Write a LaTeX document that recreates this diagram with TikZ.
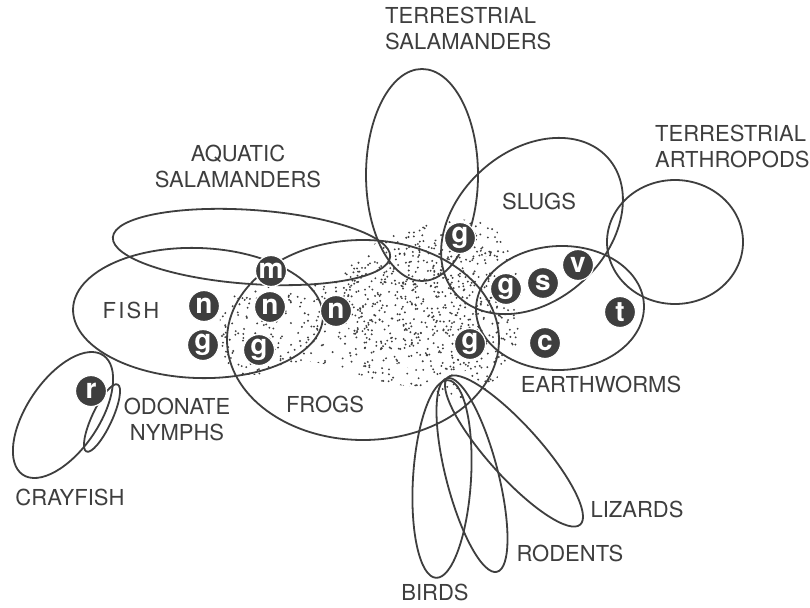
\documentclass[tikz,border=0pt]{standalone}
\usepackage{fontspec}
\setmainfont{TeX Gyre Heros}
\definecolor{ink}{RGB}{62,62,62}
\begin{document}
\begin{tikzpicture}[x=1pt,y=-1pt,
  outline/.style={draw=ink, line width=1.8pt},
  lbl/.style={text=ink, font=\fontsize{22}{26}\selectfont, inner sep=0pt},
  food/.style={circle, fill=ink, draw=white, line width=1.2pt, text=white,
    minimum size=31pt, inner sep=0pt, font=\fontsize{28}{28}\bfseries\selectfont}]
\useasboundingbox (0,0) rectangle (810,607);
\fill[white] (0,0) rectangle (810,607);

% stipple
\begin{scope}
\clip plot[smooth cycle, tension=0.7] coordinates {(226,300) (250,286) (290,288) (330,280) (360,255) (395,232) (440,222) (482,222) (506,245) (520,290) (518,340) (500,375) (470,398) (445,398) (420,388) (380,382) (340,368) (300,362) (265,374) (230,368) (220,330)};
\pgfmathsetseed{4242}
\foreach \i in {1,...,1000}{
  \pgfmathsetmacro{\px}{218+307*rnd}
  \pgfmathsetmacro{\py}{218+185*rnd}
  \fill[ink] (\px,\py) circle[radius=1.05pt];
}
\end{scope}
\begin{scope}
\clip plot[smooth cycle, tension=0.7] coordinates {(345,290) (380,255) (430,240) (480,250) (500,300) (490,350) (450,375) (400,365) (355,340)};
\foreach \i in {1,...,450}{
  \pgfmathsetmacro{\px}{340+170*rnd}
  \pgfmathsetmacro{\py}{235+145*rnd}
  \fill[ink] (\px,\py) circle[radius=1.05pt];
}
\end{scope}

% ellipses
\draw[outline, rotate around={-4:(251.5,247)}] (251.5,247) ellipse [x radius=139pt, y radius=37pt];
\draw[outline, rotate around={-2:(198,313)}] (198,313) ellipse [x radius=125pt, y radius=65pt];
\draw[outline] (363,340) ellipse [x radius=136pt, y radius=100pt];
\draw[outline] (422,175) ellipse [x radius=56pt, y radius=106pt];
\draw[outline, rotate around={42:(532,226)}] (532,226) ellipse [x radius=102pt, y radius=75pt];
\draw[outline, rotate around={2:(560,308)}] (560,308) ellipse [x radius=84pt, y radius=62pt];
\draw[outline] (675,242) ellipse [x radius=68pt, y radius=62pt];
\draw[outline, rotate around={56:(63,415)}] (63,415) ellipse [x radius=72pt, y radius=36pt];
\draw[outline, rotate around={65:(102,418)}] (102,418) ellipse [x radius=37pt, y radius=10pt];
\draw[outline, rotate around={-3.5:(442,479)}] (442,479) ellipse [x radius=29pt, y radius=99pt];
\draw[outline, rotate around={14.5:(472,475)}] (472,475) ellipse [x radius=26pt, y radius=100pt];
\draw[outline, rotate around={-48:(514,451)}] (514,451) ellipse [x radius=99pt, y radius=26pt];

% labels
\node[lbl, anchor=north west, align=left] (lTS) at (385,7) {TERRESTRIAL\\SALAMANDERS};
\node[lbl, align=center] (lAS) at (238,166) {AQUATIC\\SALAMANDERS};
\node[lbl, anchor=north west, align=left] (lTA) at (655,125) {TERRESTRIAL\\ARTHROPODS};
\node[lbl] (lSL) at (539,201) {SLUGS};
\node[lbl] (lFI) at (131,310) {\addfontfeature{LetterSpace=10}FISH};
\node[lbl] (lFR) at (325,404) {FROGS};
\node[lbl] (lEW) at (601,384) {EARTHWORMS};
\node[lbl, align=center] (lON) at (177,419) {ODONATE\\NYMPHS};
\node[lbl] (lCR) at (70,497) {CRAYFISH};
\node[lbl] (lLI) at (637,509) {LIZARDS};
\node[lbl] (lRO) at (570,553) {RODENTS};
\node[lbl] (lBI) at (435,592) {BIRDS};

% food-item circles
\node[food] (m1) at (271,271) {m};
\node[food] (n1) at (204,306) {n};
\node[food] (n2) at (270,307) {n};
\node[food] (n3) at (336,311) {n};
\node[food] (g1) at (203,345) {g};
\node[food] (g2) at (259,350) {g};
\node[food] (g3) at (460,238) {g};
\node[food] (g4) at (506,289) {g};
\node[food] (s1) at (543,283) {s};
\node[food] (v1) at (578,265) {v};
\node[food] (t1) at (620,312) {t};
\node[food] (c1) at (545,343) {c};
\node[food] (g5) at (470,344) {g};
\node[food] (r1) at (91,391) {r};
\end{tikzpicture}
\end{document}
